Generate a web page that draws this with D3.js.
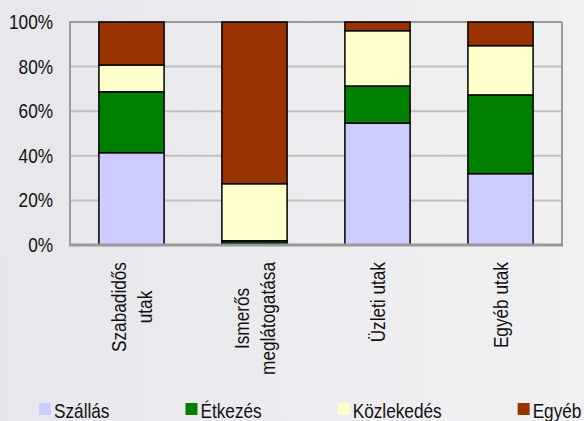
<!DOCTYPE html>
<html>
<head>
<meta charset="utf-8">
<script src="https://cdn.jsdelivr.net/npm/d3@7"></script>
<style>
  html, body { margin: 0; padding: 0; }
  body { width: 584px; height: 421px; overflow: hidden; }
  svg text { font-family: "Liberation Sans", Arial, sans-serif; font-size: 21px; fill: #111; }
</style>
</head>
<body>
<svg width="584" height="421"></svg>
<script>
// categories (lines of each label) and the four series, in percent
var categories = [["Szabadidős", "utak"], ["Ismerős", "meglátogatása"], ["Üzleti utak"], ["Egyéb utak"]];
var seriesNames = ["Szállás", "Étkezés", "Közlekedés", "Egyéb"];
var szallas    = [41.4,  0.8, 54.7, 32.0];
var etkezes    = [27.3,  1.1, 16.6, 35.3];
var kozlekedes = [12.0, 25.6, 24.8, 22.1];
var egyeb      = [19.3, 72.5,  3.9, 10.6];
var yTicks = [0, 0.2, 0.4, 0.6, 0.8, 1];
var colors = ["#ccccff", "#008000", "#ffffcc", "#993300"];

var narrow = 0.82; // the original uses a condensed face

var svg = d3.select("svg");

var defs = svg.append("defs");
var grad = defs.append("linearGradient").attr("id", "bg").attr("x1", 0).attr("x2", 1).attr("y1", 0).attr("y2", 0);
grad.append("stop").attr("offset", 0).attr("stop-color", "#e7e6ea");
grad.append("stop").attr("offset", 1).attr("stop-color", "#f1f0f3");
svg.append("rect").attr("width", 584).attr("height", 421).attr("fill", "url(#bg)");

var plotL = 70, plotR = 562, plotT = 22, plotB = 245;

var rows = categories.map(function(c, i) {
  return { key: i, "Szállás": szallas[i], "Étkezés": etkezes[i], "Közlekedés": kozlekedes[i], "Egyéb": egyeb[i] };
});

var stack = d3.stack().keys(seriesNames).offset(d3.stackOffsetExpand);
var layers = stack(rows);

var x = d3.scaleBand().domain(d3.range(categories.length)).range([plotL, plotR])
    .paddingInner(0.47).paddingOuter(0.235);
var y = d3.scaleLinear().domain([0, 1]).range([plotB, plotT]);

// gridlines
svg.append("g").selectAll("line")
    .data(yTicks.slice(1, -1))
    .enter()
  .append("line")
    .attr("x1", plotL).attr("x2", plotR)
    .attr("y1", function(d) { return y(d); })
    .attr("y2", function(d) { return y(d); })
    .attr("stroke", "#c0c0c0")
    .attr("stroke-width", 2);

// frame
svg.append("line").attr("x1", plotL).attr("x2", plotR).attr("y1", plotT).attr("y2", plotT)
    .attr("stroke", "#9a9a9a").attr("stroke-width", 2);
svg.append("line").attr("x1", plotR).attr("x2", plotR).attr("y1", plotT).attr("y2", plotB)
    .attr("stroke", "#9a9a9a").attr("stroke-width", 2);

// bars
svg.append("g").selectAll("g")
    .data(layers)
    .enter()
  .append("g")
    .attr("fill", function(d, i) { return colors[i]; })
  .selectAll("rect")
    .data(function(d) { return d; })
    .enter()
  .append("rect")
    .attr("x", function(d, i) { return x(i); })
    .attr("width", x.bandwidth())
    .attr("y", function(d) { return y(d[1]); })
    .attr("height", function(d) { return y(d[0]) - y(d[1]); })
    .attr("stroke", "#000")
    .attr("stroke-width", 1.5);

// axes lines
svg.append("line").attr("x1", plotL).attr("x2", plotL).attr("y1", plotT - 1).attr("y2", plotB)
    .attr("stroke", "#9a9a9a").attr("stroke-width", 2);
svg.append("line").attr("x1", plotL - 1).attr("x2", plotR + 1).attr("y1", plotB).attr("y2", plotB)
    .attr("stroke", "#999").attr("stroke-width", 3);

// y tick labels
var yAxis = svg.append("g")
    .attr("transform", "translate(" + plotL + ",0)")
    .call(d3.axisLeft(y).tickValues(yTicks).tickSize(0).tickPadding(17).tickFormat(d3.format(".0%")));
yAxis.select(".domain").remove();
yAxis.selectAll("text")
    .attr("font-family", null).attr("font-size", null)
    .attr("x", -17 / narrow)
    .attr("dy", "0.31em")
    .attr("transform", "scale(" + narrow + ",1)");

// category labels, rotated, lines centred in a block whose top sits at y=262
var lineH = 26, capH = 15, labelTop = 262;
var catG = svg.append("g").selectAll("g")
    .data(categories)
    .enter()
  .append("g");
catG.each(function(lines, i) {
  var g = d3.select(this);
  var cx = x(i) + x.bandwidth() / 2;
  var texts = lines.map(function(line, j) {
    var bx = cx + capH / 2 + (j - (lines.length - 1) / 2) * lineH;
    return g.append("text")
        .attr("text-anchor", "middle")
        .attr("data-bx", bx)
        .text(line);
  });
  var maxLen = d3.max(texts, function(t) { return t.node().getComputedTextLength(); }) * narrow;
  var cy = labelTop + maxLen / 2;
  texts.forEach(function(t) {
    t.attr("transform", "translate(" + t.attr("data-bx") + "," + cy + ") rotate(-90) scale(" + narrow + ",1)");
  });
});

// legend
var legend = svg.append("g");
var lx = 39;
seriesNames.forEach(function(name, i) {
  legend.append("rect")
      .attr("x", lx).attr("y", 403)
      .attr("width", 12).attr("height", 12)
      .attr("fill", colors[i]);
  var t = legend.append("text")
      .attr("transform", "translate(" + (lx + 15) + ",418) scale(" + narrow + ",1)")
      .text(name);
  lx += 15 + t.node().getComputedTextLength() * narrow + 76;
});
</script>
</body>
</html>
